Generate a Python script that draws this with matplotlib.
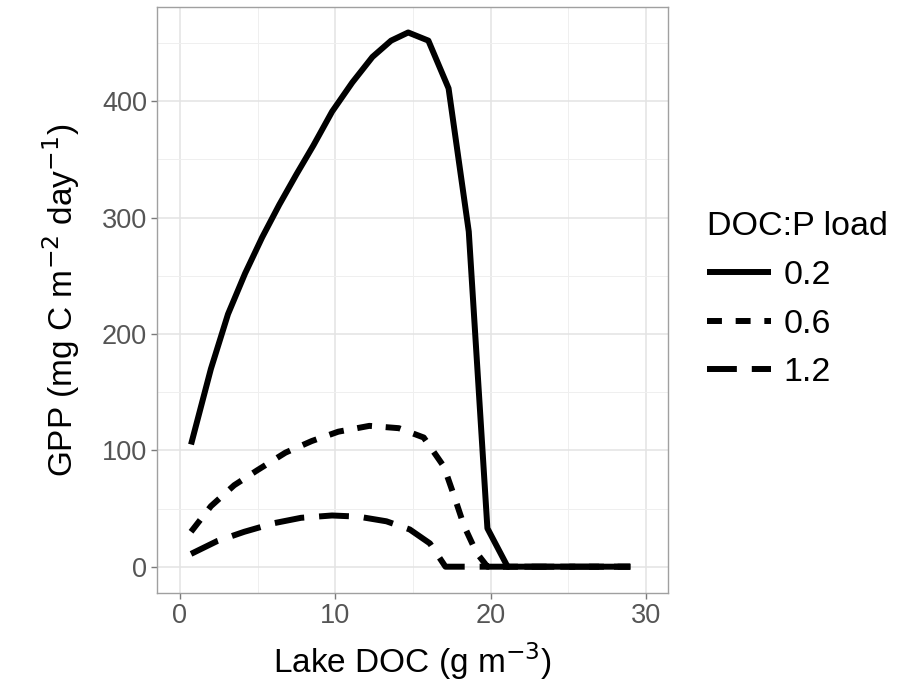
import matplotlib
matplotlib.use("Agg")
import matplotlib.pyplot as plt

plt.rcParams['font.family'] = ['Liberation Sans', 'DejaVu Sans']

# DOC:P load 0.2
x_02 = [0.72, 2.0, 3.1, 4.2, 5.3, 6.4, 7.5, 8.6, 9.8, 11.1, 12.4, 13.6, 14.7,
        16.0, 17.3, 18.6, 19.8, 21.1, 22.4, 23.7, 25.0, 26.4, 27.7, 29.0]
y_02 = [105, 170, 217, 252, 283, 311, 337, 362, 391, 416, 438, 452, 459,
        452, 411, 288, 33, 0, 0, 0, 0, 0, 0, 0]

# DOC:P load 0.6
x_06 = [0.72, 2.0, 3.5, 5.0, 6.8, 8.5, 10.2, 12.2, 14.1, 15.7, 17.0,
        17.6, 18.3, 19.1, 19.8, 22.0, 25.0, 29.0]
y_06 = [30, 52, 70, 83, 98, 108, 116, 121, 119, 111, 86,
        63, 35, 12, 0, 0, 0, 0]

# DOC:P load 1.2
x_12 = [0.72, 2.4, 4.15, 6.1, 7.8, 9.8, 11.5, 13.3, 14.8, 16.1, 17.1,
        20.0, 24.0, 29.0]
y_12 = [11, 22, 30, 37.5, 42, 44, 43, 39, 32, 20, 0,
        0, 0, 0]

labels = ['0.2', '0.6', '1.2']

fig = plt.figure(figsize=(9.12, 6.87), dpi=100)
ax = fig.add_axes([0.172, 0.137, 0.560, 0.853])

lw = 4.3
ax.plot(x_02, y_02, color='black', lw=lw, solid_capstyle='butt',
        solid_joinstyle='round', label=labels[0])
ax.plot(x_06, y_06, color='black', lw=lw, linestyle=(0, (2.5, 2.3)),
        dash_capstyle='butt', dash_joinstyle='round', label=labels[1])
ax.plot(x_12, y_12, color='black', lw=lw, linestyle=(0, (5.0, 2.5)),
        dash_capstyle='butt', dash_joinstyle='round', label=labels[2])

ax.set_xlim(-1.48, 31.4)
ax.set_ylim(-22.5, 481)
ax.set_xticks([0, 10, 20, 30])
ax.set_yticks([0, 100, 200, 300, 400])
ax.set_xticks([5, 15, 25], minor=True)
ax.set_yticks([50, 150, 250, 350, 450], minor=True)
ax.grid(which='major', color='#e3e3e3', lw=1.1)
ax.grid(which='minor', color='#efefef', lw=0.7)
ax.set_axisbelow(True)
ax.tick_params(which='major', colors='#7a7a7a', length=4, width=1.0,
               labelsize=19.5, labelcolor='#555555', pad=3)
ax.tick_params(which='minor', length=0)
for s in ax.spines.values():
    s.set_color('#a0a0a0')
    s.set_linewidth(1.0)

ax.set_xlabel('Lake DOC (g m$^{-3}$)', fontsize=24, labelpad=8)
ax.set_ylabel('GPP (mg C m$^{-2}$ day$^{-1}$)', fontsize=24, labelpad=14)

leg = fig.legend(loc='upper left', bbox_to_anchor=(0.7655, 0.705),
                 frameon=False, fontsize=24.5, title='DOC:P load',
                 title_fontsize=24.5, handlelength=1.9, handletextpad=0.35,
                 labelspacing=0.52, borderpad=0.25, borderaxespad=0.0)
leg._legend_box.align = 'left'

fig.savefig('out.png', dpi=100)
